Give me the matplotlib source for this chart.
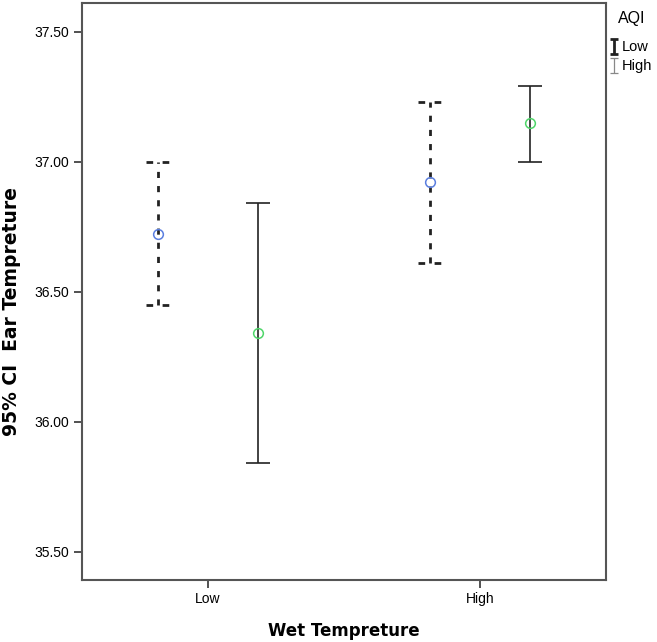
import numpy as np
import matplotlib.pyplot as plt

plt.rcParams['font.family'] = ['Liberation Sans', 'DejaVu Sans']

# data
wet_temp = ['Low', 'High']
aqi_groups = ['Low', 'High']
means = {'Low': [36.72, 36.92], 'High': [36.34, 37.15]}
upper = {'Low': [37.00, 37.23], 'High': [36.84, 37.29]}
lower = {'Low': [36.45, 36.61], 'High': [35.84, 37.00]}

marker_colors = {'Low': '#5b7fe0', 'High': '#4fd66a'}
offsets = {'Low': -0.184, 'High': 0.184}
bar_ls = {'Low': (0, (2.2, 2.9)), 'High': '-'}
bar_lw = {'Low': 2.0, 'High': 1.2}
cap_ls = {'Low': (0, (2.4, 3.4)), 'High': '-'}

fig = plt.figure(figsize=(6.57, 6.42), dpi=100)
ax = fig.add_axes([0.1248, 0.0966, 0.7976, 0.8988])

x = np.arange(len(wet_temp))
cap = 0.044
handles = []
for g in aqi_groups:
    xs = x + offsets[g]
    ax.vlines(xs, lower[g], upper[g], colors='#222222', linestyles=bar_ls[g], lw=bar_lw[g])
    ax.hlines(upper[g], xs - cap, xs + cap, colors='#222222', linestyles=cap_ls[g], lw=bar_lw[g])
    ax.hlines(lower[g], xs - cap, xs + cap, colors='#222222', linestyles=cap_ls[g], lw=bar_lw[g])
    ax.plot(xs, means[g], 'o', mfc='none', mec=marker_colors[g], ms=7, mew=1.1, zorder=5)
    h = ax.errorbar([np.nan], [np.nan], yerr=[[0.1]], fmt='none',
                    ecolor='#222222' if g == 'Low' else '#888888',
                    elinewidth=2.0 if g == 'Low' else 0.9, capsize=3,
                    capthick=2.0 if g == 'Low' else 0.9, label=g)
    handles.append(h)

ax.set_xlim(-0.463, 1.463)
ax.set_ylim(35.392, 37.61)
ax.set_xticks(x)
ax.set_xticklabels(wet_temp)
ax.set_yticks([35.5, 36.0, 36.5, 37.0, 37.5])
ax.set_yticklabels(['35.50', '36.00', '36.50', '37.00', '37.50'])
ax.tick_params(direction='out', length=6, width=1.2, color='#333333', labelsize=10, pad=3)
for s in ax.spines.values():
    s.set_color('#555555')
    s.set_linewidth(1.5)

ax.set_xlabel('Wet Tempreture', fontsize=12, fontweight='bold', family='DejaVu Sans')
ax.set_ylabel('95% CI  Ear Tempreture', fontsize=13.5, fontweight='bold', family='DejaVu Sans')
ax.xaxis.set_label_coords(0.5, -0.073)
ax.yaxis.set_label_coords(-0.116, 0.466)

fig.text(0.941, 1 - 18 / 642, 'AQI', fontsize=11.5, ha='left', va='center')
fig.legend(handles=handles, labels=aqi_groups, loc='upper left',
           bbox_to_anchor=(0.913, 0.953), frameon=False, fontsize=10.5,
           handlelength=0.5, handletextpad=0.3, borderpad=0.2, labelspacing=0.35)

fig.savefig('out.png', dpi=100)
